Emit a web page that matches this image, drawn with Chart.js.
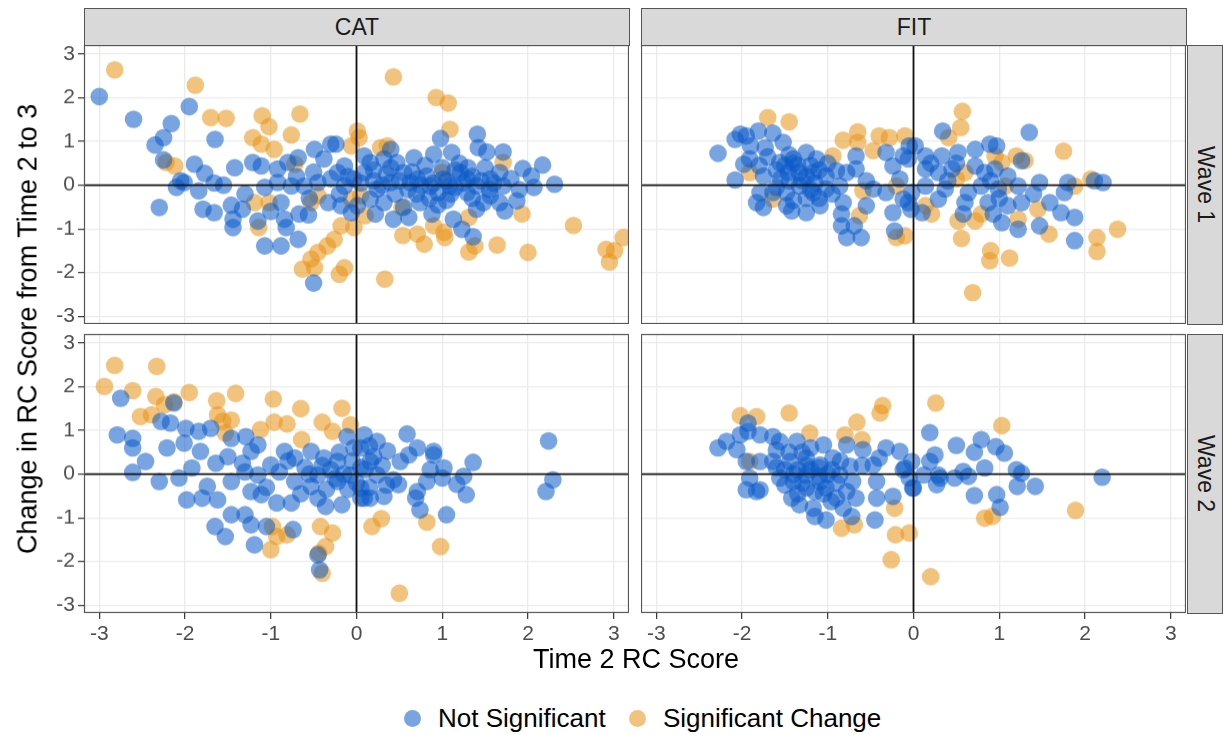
<!DOCTYPE html>
<html lang="en">
  <head>
    <meta charset="UTF-8" />
    <script src="https://cdn.jsdelivr.net/npm/chart.js"></script>
    <title>RC Score Change</title>
    <style>
      body { margin: 0; background: #fff; font-family: "Liberation Sans", Arial, sans-serif; }
      #wrap { position: relative; width: 1223px; height: 735px; overflow: hidden; }
      canvas { position: absolute; }
      .strip { position: absolute; box-sizing: border-box; background: #D9D9D9; border: 1px solid #555;
               color: #1a1a1a; font-size: 23px; display: flex; align-items: center; justify-content: center; }
      .strip.side span { writing-mode: vertical-rl; }
      .title { position: absolute; color: #000; font-size: 27px; white-space: nowrap; }
      .key { position: absolute; width: 17px; height: 17px; border-radius: 50%; }
      .keytxt { position: absolute; font-size: 26px; color: #000; white-space: nowrap; }
    </style>
  </head>
  <body>
    <div id="wrap"></div>
    <script>
      const facetCols = ['CAT', 'FIT'];
      const facetRows = ['Wave 1', 'Wave 2'];
      const seriesNames = ['Not Significant', 'Significant Change'];
      const tickValues = [-3, -2, -1, 0, 1, 2, 3];
      const xTitle = 'Time 2 RC Score';
      const yTitle = 'Change in RC Score from Time 2 to 3';

      // [Time 2 RC score, change from time 2 to 3]
      const catWave1NotSig = [
        [-3.0,2.03],[-2.60,1.51],[-2.16,1.41],[-1.95,1.80],[-2.25,1.09],[-2.35,0.92],[-1.65,1.05],[-2.25,0.58],
        [-1.89,0.48],[-1.77,0.27],[-2.05,0.10],[-2.01,0.06],[-1.84,-0.13],[-1.66,0.05],[-2.30,-0.51],[-1.79,-0.55],
        [-1.66,-0.63],[-1.46,-0.46],[-1.33,-0.55],[-1.44,-0.78],[-1.44,-0.97],[-1.15,-0.82],[-1.07,-1.39],[-0.88,-1.39],
        [-0.68,-1.24],[-0.82,-0.97],[-0.84,-0.78],[-0.67,-0.66],[-0.56,-0.68],[-0.50,-2.24],[-1.42,0.40],[-1.21,0.52],
        [-1.11,0.44],[-0.92,0.37],[-0.80,0.52],[-0.68,0.63],[-0.49,0.82],[-0.30,0.94],[-0.24,0.94],[-0.38,0.60],
        [-0.22,0.29],[-0.14,0.44],[-1.07,-0.05],[-0.92,0.06],[-0.76,-0.02],[-0.61,-0.02],[-0.45,0.06],[-0.88,-0.40],
        [-0.33,-0.40],[-0.18,-0.47],[-0.06,-0.63],[-0.14,-0.02],[-0.03,0.14],
        [1.41,1.17],[0.98,1.07],[0.90,0.71],[1.11,0.75],[1.42,0.86],[1.52,0.76],[1.71,0.76],[2.17,0.46],
        [1.94,0.38],[2.04,0.21],[2.31,0.02],[2.07,-0.05],[1.87,-0.36],[0.67,0.63],[0.40,0.82],[0.32,0.60],
        [0.16,0.52],[0.09,0.29],[0.71,0.14],[0.82,0.21],[1.01,0.14],[1.21,0.29],[1.29,0.14],[1.40,-0.02],
        [1.56,0.14],[1.67,0.29],[1.71,-0.02],[1.09,-0.02],[0.86,-0.02],[0.63,0.06],[0.40,0.06],[0.24,-0.09],
        [0.16,-0.32],[0.32,-0.40],[0.43,-0.78],[0.61,-0.74],[0.74,-0.40],[0.88,-0.66],[1.13,-0.78],[1.23,-1.01],
        [1.36,-1.18],[1.48,-0.40],[1.67,-0.40],[1.73,-0.59],[0.22,-0.66],[0.01,-0.47],[0.09,0.67],[0.47,0.52],
        [0.55,0.29],[1.56,-0.24],[1.29,-0.17],[0.95,-0.17],[0.50,0.10],[0.60,-0.10],[0.75,0.00],[0.90,0.05],
        [1.05,0.10],[1.15,-0.05],[1.25,0.05],[1.35,0.20],[1.45,0.10],[1.60,0.05],[0.35,0.25],[0.20,0.10],
        [-0.10,0.20],[-0.30,0.15],[-0.50,0.30],[-0.70,0.20],[-0.55,-0.30],[1.00,0.40],[1.20,0.50],[0.80,0.45],
        [1.35,-0.30],[1.05,-0.35],[0.55,-0.50],[-1.30,-0.20],[-1.00,-0.60],[-1.55,0.00],[-2.10,-0.05],
        [0.30,0.00],[0.45,-0.20],[0.65,0.30],[0.85,-0.30],[1.15,0.35],[1.30,0.40],[1.50,0.40],[1.55,-0.10],
        [1.80,0.15],[1.90,-0.10],[0.95,-0.45],[0.70,-0.20],[0.20,0.35],[0.05,0.05],[-0.20,-0.20],[0.40,0.40],
        [1.10,-0.20],[1.40,-0.55]
      ];
      const catWave1Sig = [
        [-2.82,2.64],[-1.88,2.29],[-1.70,1.55],[-1.52,1.53],[-1.10,1.59],[-1.02,1.34],[-0.66,1.63],[-0.76,1.15],
        [-1.21,1.09],[-1.11,0.94],[-0.96,0.82],[-2.12,0.44],[-2.22,0.52],[-0.72,0.48],[0.01,1.24],[-0.06,0.90],
        [-1.19,-0.40],[-1.02,-0.40],[-1.14,-0.97],[-0.18,-0.93],[-0.26,-1.24],[-0.34,-1.39],[-0.45,-1.54],[-0.53,-1.69],
        [-0.63,-1.92],[-0.49,-1.89],[-0.20,-2.04],[-0.14,-1.89],[-0.45,-0.24],[-0.53,-0.40],[-0.06,-0.32],
        [0.43,2.48],[0.93,2.01],[1.07,1.88],[1.09,1.28],[0.03,1.09],[0.28,0.86],[0.36,0.90],[2.53,-0.92],
        [3.11,-1.20],[2.91,-1.47],[3.01,-1.50],[2.95,-1.76],[2.00,-1.54],[1.64,-1.37],[1.38,-1.39],[1.31,-1.53],
        [1.03,-1.20],[1.02,-1.08],[0.79,-1.35],[0.71,-1.12],[0.54,-1.15],[0.53,-0.51],[1.31,-0.74],[1.93,-0.66],
        [0.90,-0.93],[0.33,-2.15],[-0.03,-0.97],[1.71,0.52],[0.05,-0.24],[0.10,-0.70],[1.00,0.29]
      ];
      const fitWave1NotSig = [
        [-2.28,0.73],[-2.08,1.05],[-2.02,1.17],[-1.95,1.13],[-1.81,1.24],[-1.64,1.19],[-1.52,0.98],[-1.73,0.86],
        [-1.91,0.60],[-1.98,0.48],[-2.08,0.12],[-1.75,0.21],[-1.56,0.52],[-1.40,0.60],[-1.25,0.75],[-1.13,0.60],
        [-1.46,0.29],[-1.33,0.29],[-1.17,0.29],[-1.02,0.21],[-0.90,0.33],[-0.67,0.67],[-0.67,0.37],[-0.78,0.29],
        [-0.86,-0.02],[-1.02,-0.09],[-1.17,-0.17],[-1.33,-0.02],[-1.48,-0.17],[-1.64,-0.17],[-1.79,-0.17],[-1.83,-0.40],
        [-1.75,-0.51],[-1.48,-0.47],[-1.42,-0.59],[-1.25,-0.63],[-1.09,-0.47],[-0.82,-0.40],[-0.84,-0.66],[-0.84,-0.93],
        [-0.78,-1.20],[-0.61,-1.20],[-0.69,-0.93],[-0.55,-0.47],[-0.47,-0.09],[-0.32,-0.17],[-0.24,-0.63],[-0.22,-1.05],
        [-0.12,-0.32],[-0.16,0.14],[-0.24,0.44],[-0.12,0.67],[-0.05,0.90],[-0.32,0.75],[-0.03,-0.55],
        [-1.50,0.45],[-1.35,0.45],[-1.20,0.45],[-1.45,0.10],[-1.30,0.10],[-1.15,0.05],[-1.60,0.35],[-1.90,0.90],
        [-1.70,0.65],[-1.25,-0.30],[-1.40,-0.35],[-1.10,-0.30],[-0.95,-0.20],
        [-1.55,0.15],[-1.40,0.50],[-1.25,0.20],[-1.10,0.35],[-1.60,-0.05],[-1.20,-0.10],[-1.45,0.70],[-1.80,0.45],
        [-1.00,0.50],[-0.55,0.10],
        [0.34,1.24],[1.35,1.21],[0.89,0.94],[0.97,0.90],[0.72,0.82],[0.52,0.75],[0.33,0.67],[0.14,0.67],
        [0.02,0.90],[-0.06,0.60],[0.14,0.37],[0.29,0.29],[0.45,0.37],[0.72,0.44],[0.83,0.29],[0.95,0.37],
        [1.10,0.21],[1.26,0.56],[1.47,0.06],[1.80,0.06],[2.11,0.10],[2.21,0.06],[1.22,-0.02],[0.99,-0.09],
        [0.79,-0.02],[0.64,-0.17],[0.37,-0.09],[0.14,-0.02],[-0.02,-0.17],[-0.06,-0.40],[0.10,-0.63],[0.29,-0.32],
        [0.60,-0.40],[0.58,-0.66],[0.93,-0.66],[1.03,-0.86],[1.22,-1.01],[1.47,-0.93],[1.26,-0.40],[1.59,-0.40],
        [1.72,-0.63],[1.88,-0.74],[1.88,-1.27],[1.76,-0.17],[0.87,-0.40],[1.10,-0.47],
        [0.50,0.50],[0.40,0.10],[0.90,0.10],[1.00,-0.30],[1.40,-0.20],[0.20,0.50]
      ];
      const fitWave1Sig = [
        [-1.70,1.55],[-1.45,1.45],[-0.65,1.22],[-0.82,1.03],[-0.65,0.98],[-0.40,1.13],[-0.28,1.09],[-0.10,1.13],
        [-0.47,0.79],[-0.94,0.67],[-1.91,0.29],[-1.64,-0.32],[-0.63,-0.70],[-0.20,-1.20],[-0.59,-0.13],[-0.20,-0.02],
        [0.57,1.69],[0.55,1.32],[0.41,1.09],[1.75,0.78],[1.20,0.67],[1.30,0.56],[0.95,0.67],[1.03,0.52],
        [0.60,0.29],[0.50,0.14],[2.07,0.14],[1.88,-0.02],[1.45,-0.55],[1.22,-0.78],[0.79,-0.66],[0.72,-0.82],
        [0.52,-0.82],[0.21,-0.66],[0.14,-0.47],[0.56,-1.22],[0.90,-1.50],[0.89,-1.73],[1.12,-1.67],[1.58,-1.12],
        [2.14,-1.20],[2.14,-1.52],[2.38,-1.01],[0.69,-2.46],[-0.10,-1.16],[1.07,-0.02]
      ];
      const catWave2NotSig = [
        [-2.75,1.74],[-2.13,1.63],[-2.28,1.21],[-2.17,1.17],[-2.79,0.90],[-2.61,0.82],[-2.61,0.60],[-2.46,0.29],
        [-2.61,0.04],[-2.30,-0.17],[-2.21,0.60],[-2.01,0.71],[-1.99,1.05],[-1.84,0.98],[-1.70,1.05],[-1.82,0.52],
        [-1.92,0.14],[-2.07,-0.09],[-1.98,-0.59],[-1.80,-0.55],[-1.64,0.25],[-1.62,-0.59],[-1.74,-0.28],[-1.46,-0.17],
        [-1.46,0.82],[-1.29,0.86],[-1.15,0.67],[-1.33,0.25],[-1.23,0.52],[-1.15,-0.02],[-1.00,0.21],[-0.84,0.52],
        [-0.72,0.37],[-0.53,0.52],[-0.38,0.37],[-0.22,0.29],[-0.11,0.86],[-0.03,0.60],[-0.72,-0.17],[-0.53,-0.28],
        [-0.45,-0.02],[-0.22,-0.17],[-0.07,-0.02],[-0.45,-0.55],[-0.36,-0.74],[-0.17,-0.70],[-0.76,-0.66],[-0.93,-0.66],
        [-1.11,-0.47],[-1.23,-0.40],[-1.30,-0.93],[-1.23,-1.16],[-1.46,-0.93],[-1.65,-1.20],[-1.53,-1.43],[-1.19,-1.62],
        [-1.05,-1.20],[-0.74,-1.27],[-0.45,-1.85],[-0.43,-2.19],[0.05,-0.55],
        [-0.30,0.10],[-0.60,0.15],[-0.90,0.05],[-1.05,-0.30],[-0.20,0.50],[-0.05,0.30],[-0.35,-0.35],[-0.80,0.30],[-0.15,0.00],
        [-0.40,0.20],[-0.25,-0.10],[0.05,0.15],[-0.10,-0.35],[0.15,0.65],[-0.55,0.00],[-1.30,0.05],[-1.50,0.40],
        [-0.65,-0.45],[0.35,-0.25],
        [2.24,0.76],[2.29,-0.13],[2.21,-0.40],[0.59,0.92],[1.36,0.27],[0.71,0.60],[0.61,0.44],[0.51,0.29],
        [0.90,0.52],[0.90,0.44],[1.02,0.14],[0.86,0.10],[1.00,-0.09],[1.25,-0.05],[1.17,-0.23],[1.28,-0.47],
        [0.82,-0.17],[0.71,-0.40],[0.69,-0.55],[0.74,-0.82],[1.05,-0.93],[0.43,-0.13],[0.49,-0.24],[0.32,-0.51],
        [0.16,-0.55],[0.09,-0.55],[0.05,-0.32],[0.24,-0.02],[0.09,0.90],[0.24,0.75],[0.36,0.53],[0.16,0.29],
        [0.05,0.60],[0.10,0.10],[0.20,0.40],[0.30,0.20],[0.00,-0.20],[0.15,-0.30]
      ];
      const catWave2Sig = [
        [-2.82,2.49],[-2.33,2.47],[-2.94,2.01],[-2.61,1.91],[-2.34,1.78],[-2.13,1.66],[-2.52,1.32],[-2.39,1.36],
        [-1.95,1.87],[-1.63,1.68],[-1.41,1.85],[-1.62,1.36],[-1.46,1.24],[-1.56,1.21],[-0.97,1.72],[-0.65,1.50],
        [-0.96,1.19],[-0.81,1.15],[-0.40,1.19],[-0.28,0.98],[-0.17,1.51],[-0.07,1.13],[-1.12,1.02],[-1.53,0.94],
        [-0.64,0.79],[-0.98,-1.20],[-0.93,-1.43],[-1.00,-1.73],[-0.81,-1.39],[-0.42,-1.20],[-0.28,-1.35],[-0.36,-1.66],
        [-0.44,-1.81],[-0.40,-2.27],[-2.24,1.59],
        [0.29,-1.02],[0.18,-1.20],[0.82,-1.10],[0.98,-1.66],[0.50,-2.73]
      ];
      const fitWave2NotSig = [
        [-2.28,0.60],[-2.18,0.75],[-2.02,0.90],[-1.93,1.17],[-1.93,0.98],[-2.06,0.56],[-1.95,0.29],[-1.79,0.90],
        [-1.64,0.86],[-1.56,0.75],[-1.36,0.75],[-1.05,0.67],[-0.78,0.67],[-0.59,0.56],[-0.32,0.60],[-0.16,0.52],
        [-0.40,0.37],[-0.47,0.21],[-0.74,0.18],[-0.94,0.37],[-1.09,0.21],[-1.25,0.37],[-1.44,0.29],[-1.64,0.29],
        [-1.79,0.29],[-1.91,-0.09],[-1.95,-0.36],[-1.83,-0.40],[-1.79,-0.36],[-1.56,-0.09],[-1.40,-0.17],[-1.25,-0.02],
        [-1.09,-0.17],[-0.86,-0.02],[-0.71,-0.17],[-0.43,-0.17],[-0.43,-0.55],[-0.24,-0.51],[-0.05,-0.09],[-0.01,-0.32],
        [-0.12,0.10],[-1.42,-0.55],[-1.33,-0.70],[-1.17,-0.78],[-1.15,-0.97],[-1.02,-1.05],[-0.96,-0.63],[-0.82,-0.78],
        [-0.67,-0.55],[-0.72,-0.97],[-0.45,-1.05],[-0.78,-0.40],[-1.25,-0.32],[-1.02,-0.32],
        [-1.50,0.10],[-1.35,0.10],[-1.20,0.10],[-1.10,-0.05],[-1.00,0.00],[-1.30,0.50],[-1.15,-0.40],[-0.90,-0.20],
        [-1.45,0.50],[-1.60,0.55],[-0.60,0.20],
        [-1.40,0.00],[-1.25,0.20],[-1.10,0.15],[-1.30,-0.20],[-1.05,-0.45],[-0.95,0.10],[-1.50,-0.25],[-1.20,0.60],
        [-0.85,0.30],[-1.60,0.15],[-1.35,-0.45],[-0.90,-0.55],
        [0.19,0.95],[0.50,0.66],[0.79,0.79],[0.96,0.63],[1.06,0.48],[0.71,0.50],[0.25,0.44],[0.19,0.29],
        [-0.02,0.29],[-0.10,0.14],[0.12,-0.02],[0.29,-0.02],[0.31,-0.09],[0.48,-0.09],[0.58,0.06],[0.64,-0.05],
        [0.83,0.14],[1.20,0.10],[1.26,0.02],[1.21,-0.28],[1.42,-0.28],[0.27,-0.24],[0.00,-0.32],[0.71,-0.49],
        [0.97,-0.47],[1.01,-0.76],[2.20,-0.07]
      ];
      const fitWave2Sig = [
        [-2.02,1.34],[-1.83,1.32],[-1.45,1.40],[-1.21,0.94],[-0.66,1.19],[-0.80,0.90],[-0.60,0.79],[-0.36,1.57],
        [-0.39,1.40],[-0.22,-0.78],[-0.84,-1.24],[-0.69,-1.16],[-0.21,-1.39],[-0.05,-1.35],[-0.26,-1.96],[-1.91,0.29],
        [0.26,1.63],[1.03,1.11],[1.89,-0.83],[0.83,-1.01],[0.92,-0.97],[0.20,-2.35]
      ];

      const blue = 'rgba(10, 90, 200, 0.55)';
      const orange = 'rgba(231, 146, 19, 0.55)';
      const xRange = [-3.178, 3.178];
      const yRange = [-3.18, 3.21];

      Chart.defaults.font.family = '"Liberation Sans", Arial, sans-serif';

      const wrap = document.getElementById('wrap');
      const panelW = 545, panelH = 278.5, yAxisW = 84, xAxisH = 35, padTop = 10;
      const colLeft = [84, 641];
      const rowTop = [45, 334];

      // zero reference lines on top of the points, plus panel border
      const panelLines = {
        id: 'panelLines',
        afterDatasetsDraw(chart) {
          const { ctx, chartArea: a, scales } = chart;
          const x0 = scales.x.getPixelForValue(0);
          const y0 = scales.y.getPixelForValue(0);
          ctx.save();
          ctx.strokeStyle = '#111';
          ctx.lineWidth = 1.8;
          ctx.beginPath();
          ctx.moveTo(x0, a.top); ctx.lineTo(x0, a.bottom);
          ctx.moveTo(a.left, y0); ctx.lineTo(a.right, y0);
          ctx.stroke();
          ctx.strokeStyle = '#555';
          ctx.lineWidth = 1.2;
          ctx.strokeRect(a.left + 0.5, a.top + 0.5, a.width - 1, a.height - 1);
          ctx.restore();
        }
      };

      function axis(dir, show, range) {
        return {
          type: 'linear',
          min: range[0],
          max: range[1],
          afterBuildTicks: s => { s.ticks = tickValues.map(v => ({ value: v })); },
          afterFit: s => {
            if (dir === 'x') s.height = show ? xAxisH : 0;
            else s.width = show ? yAxisW : 0;
            s.paddingTop = 0; s.paddingBottom = 0; s.paddingLeft = 0; s.paddingRight = 0;
          },
          grid: { color: '#EBEBEB', lineWidth: 1.3, drawTicks: show, tickLength: 6, tickColor: '#333', tickWidth: 1.2 },
          border: { display: false },
          ticks: { display: show, padding: 3, color: '#4D4D4D', font: { size: 21 }, callback: v => String(v) }
        };
      }

      function panel(col, row, notSig, sig) {
        const showY = col === 0, showX = row === 1;
        const c = document.createElement('canvas');
        const w = panelW + (showY ? yAxisW : 0);
        const h = padTop + panelH + (showX ? xAxisH : 0);
        c.width = w; c.height = h;
        c.style.left = (colLeft[col] - (showY ? yAxisW : 0)) + 'px';
        c.style.top = (rowTop[row] - padTop) + 'px';
        c.style.width = w + 'px'; c.style.height = h + 'px';
        wrap.appendChild(c);
        const pt = arr => arr.map(([x, y]) => ({ x, y }));
        new Chart(c, {
          type: 'scatter',
          data: {
            datasets: [
              { label: seriesNames[0], data: pt(notSig), backgroundColor: blue, borderWidth: 0, pointRadius: 8.8, pointHoverRadius: 8.8, clip: 0 },
              { label: seriesNames[1], data: pt(sig), backgroundColor: orange, borderWidth: 0, pointRadius: 8.8, pointHoverRadius: 8.8, clip: 0 }
            ]
          },
          options: {
            responsive: false,
            animation: false,
            devicePixelRatio: 1,
            layout: { autoPadding: false, padding: { top: padTop, left: 0, right: 0, bottom: 0 } },
            plugins: { legend: { display: false }, tooltip: { enabled: false } },
            scales: { x: axis('x', showX, xRange), y: axis('y', showY, yRange) }
          },
          plugins: [panelLines]
        });
      }

      panel(0, 0, catWave1NotSig, catWave1Sig);
      panel(1, 0, fitWave1NotSig, fitWave1Sig);
      panel(0, 1, catWave2NotSig, catWave2Sig);
      panel(1, 1, fitWave2NotSig, fitWave2Sig);

      function add(cls, style, text) {
        const d = document.createElement('div');
        d.className = cls;
        Object.assign(d.style, style);
        if (text !== undefined) d.innerHTML = text;
        wrap.appendChild(d);
        return d;
      }

      // facet strips
      facetCols.forEach((name, i) => add('strip', { left: colLeft[i] + 'px', top: '8px', width: (panelW + 1) + 'px', height: '38px' }, name));
      facetRows.forEach((name, i) => add('strip side', { left: '1187px', top: rowTop[i] + 'px', width: '36px', height: (panelH + 1) + 'px' }, '<span>' + name + '</span>'));

      // axis titles
      add('title', { left: '636px', top: '644px', transform: 'translateX(-50%)' }, xTitle);
      add('title', { left: '28px', top: '329px', transform: 'translate(-50%, -50%) rotate(-90deg)' }, yTitle);

      // legend
      const keyColors = [blue, orange];
      const keyX = [412, 637];
      seriesNames.forEach((name, i) => {
        add('key', { left: (keyX[i] - 8.5) + 'px', top: '710px', background: keyColors[i] });
        add('keytxt', { left: (keyX[i] + 26) + 'px', top: '703px' }, name);
      });
    </script>
  </body>
</html>
